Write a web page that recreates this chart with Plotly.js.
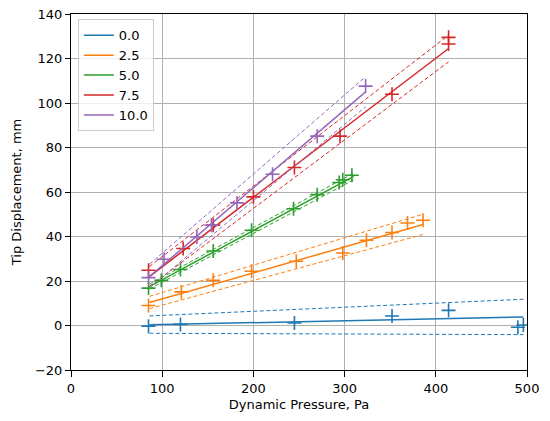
<!DOCTYPE html>
<html>
<head>
<meta charset="utf-8">
<script src="https://cdn.plot.ly/plotly-3.0.1.min.js"></script>
<style>html,body{margin:0;padding:0;background:#fff;}#chart{width:550px;height:421px;}</style>
</head>
<body>
<div id="chart"></div>
<script>
// Series names (legend)
const seriesNames = ["0.0", "2.5", "5.0", "7.5", "10.0"];
const seriesColors = ["#1f77b4", "#ff7f0e", "#2ca02c", "#d62728", "#9467bd"];

// Measured points
const x00 = [85, 120, 245, 352, 414, 490, 496];
const y00 = [-0.3, 0.5, 1.1, 4.3, 6.8, -0.8, 0.2];
const x25 = [85, 121, 156, 198, 247, 298, 324, 352, 369, 386];
const y25 = [9.0, 15.1, 20.3, 24.4, 28.9, 32.6, 38.3, 41.8, 46.1, 47.3];
const x50 = [85, 99, 120, 156, 198, 244, 270, 294, 298, 308];
const y50 = [16.8, 20.3, 25.2, 33.5, 42.8, 52.5, 58.8, 64.3, 65.5, 67.5];
const x75 = [85, 123, 156, 200, 245, 295, 352, 414, 414];
const y75 = [24.8, 34.6, 45.1, 57.8, 71.0, 85.1, 103.9, 126.5, 129.5];
const x10 = [85, 102, 138, 154, 182, 221, 270, 323];
const y10 = [21.5, 29.8, 39.8, 45.1, 55.1, 68.0, 85.1, 107.6];

// Fit lines and bands (start, end)
const fitX00 = [86, 496], fitY00 = [0.3, 3.8], upY00 = [4.3, 11.8], loY00 = [-3.5, -4.1];
const fitX25 = [86, 386], fitY25 = [10.3, 45.4], upY25 = [13.1, 50.0], loY25 = [7.6, 40.9];
const fitX50 = [86, 310], fitY50 = [17.5, 67.0], upY50 = [18.6, 68.5], loY50 = [16.4, 65.5];
const fitX75 = [86, 414], fitY75 = [22.0, 124.5], upY75 = [26.5, 130.5], loY75 = [17.5, 118.5];
const fitX10 = [86, 323], fitY10 = [22.0, 105.0], upY10 = [27.5, 111.8], loY10 = [17.0, 98.3];

const pts = [[x00, y00], [x25, y25], [x50, y50], [x75, y75], [x10, y10]];
const fits = [
  [fitX00, fitY00, upY00, loY00],
  [fitX25, fitY25, upY25, loY25],
  [fitX50, fitY50, upY50, loY50],
  [fitX75, fitY75, upY75, loY75],
  [fitX10, fitY10, upY10, loY10]
];

const traces = [];
for (let i = 0; i < seriesNames.length; i++) {
  const c = seriesColors[i];
  const f = fits[i];
  traces.push({
    x: pts[i][0], y: pts[i][1], type: "scatter", mode: "markers",
    marker: {symbol: "cross-thin-open", size: 10, color: c, line: {color: c, width: 1.6}},
    showlegend: false, hoverinfo: "skip"
  });
  traces.push({
    x: f[0], y: f[1], type: "scatter", mode: "lines", name: seriesNames[i],
    line: {color: c, width: 1.5}
  });
  traces.push({
    x: f[0], y: f[2], type: "scatter", mode: "lines", showlegend: false,
    line: {color: c, width: 1, dash: "4px,2.5px"}
  });
  traces.push({
    x: f[0], y: f[3], type: "scatter", mode: "lines", showlegend: false,
    line: {color: c, width: 1, dash: "4px,2.5px"}
  });
}

const axisCommon = {
  showline: true, mirror: true, linecolor: "#000", linewidth: 1,
  ticks: "outside", ticklen: 5, tickcolor: "#000", tickwidth: 1,
  showgrid: true, gridcolor: "#b0b0b0", gridwidth: 1, zeroline: false,
  tickfont: {size: 13, color: "#000"}
};

const layout = {
  width: 550, height: 421,
  margin: {l: 71, r: 23, t: 14, b: 51},
  paper_bgcolor: "#fff", plot_bgcolor: "#fff",
  font: {family: "DejaVu Sans, sans-serif", size: 13, color: "#000"},
  xaxis: Object.assign({}, axisCommon, {
    range: [0, 500], dtick: 100, tick0: 0, ticklen: 6,
    title: {text: "Dynamic Pressure, Pa", font: {size: 13}, standoff: 5}
  }),
  yaxis: Object.assign({}, axisCommon, {
    range: [-20, 140], dtick: 20, tick0: 0,
    title: {text: "Tip Displacement, mm", font: {size: 13}, standoff: 10}
  }),
  legend: {
    x: 0.015, y: 0.985, xanchor: "left", yanchor: "top",
    bgcolor: "rgba(255,255,255,0.8)", bordercolor: "#cccccc", borderwidth: 1,
    font: {size: 13}, tracegroupgap: 0
  },
  showlegend: true
};

Plotly.newPlot("chart", traces, layout, {displayModeBar: false, staticPlot: true});
</script>
</body>
</html>
